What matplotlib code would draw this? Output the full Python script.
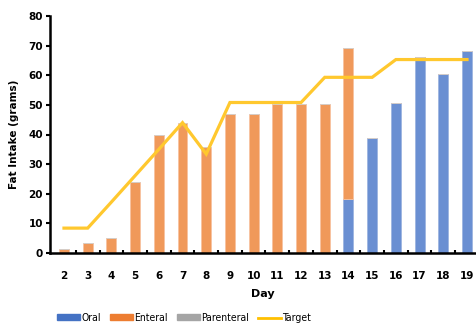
import numpy as np
import matplotlib
matplotlib.use("Agg")
import matplotlib.pyplot as plt
from matplotlib.lines import Line2D
from matplotlib.patches import Patch

# daily fat intake (grams) by route, plus the target curve
days = [2, 3, 4, 5, 6, 7, 8, 9, 10, 11, 12, 13, 14, 15, 16, 17, 18, 19]
oral = [0, 0, 0, 0, 0, 0, 0, 0, 0, 0, 0, 0, 18.2, 38.9, 50.6, 66.0, 60.5, 68.2]
enteral = [1.5, 3.4, 5.0, 24.0, 39.7, 43.8, 35.7, 46.8, 46.8, 50.2, 50.2, 50.2, 50.9, 0, 0, 0, 0, 0]
parenteral = [0] * 18
target = [8.4, 8.4, 17.2, 26.1, 35.0, 44.0, 33.4, 50.8, 50.8, 50.8, 50.8, 59.3, 59.3, 59.3, 65.3, 65.3, 65.3, 65.3]

c_oral = "#6a8fd2"
c_enteral = "#f0995a"
c_parent = "#a5a5a5"
c_target = "#ffc82e"

fig = plt.figure(figsize=(4.76, 3.26), dpi=100)
ax = fig.add_axes([50 / 476, 73 / 326, 426 / 476, 237 / 326])

x = np.arange(len(days))
bottom = np.zeros(len(days))
for vals, col, edge in [(oral, c_oral, "#9db5e0"), (enteral, c_enteral, "#f7c2a0"),
                        (parenteral, c_parent, "#cfcfcf")]:
    ax.bar(x, vals, width=0.42, bottom=bottom, color=col, edgecolor=edge,
           linewidth=0.6, zorder=2)
    bottom += np.array(vals)
ax.plot(x, target, color=c_target, lw=2.3, zorder=3, solid_joinstyle="miter")

ax.set_xlim(-0.59, 17.38)
ax.set_ylim(0, 80)
ax.set_yticks(range(0, 81, 10))
ax.set_xticks(x)
ax.set_xticklabels([str(d) for d in days])
ax.set_xticks(np.arange(0.5, 17, 1), minor=True)

for s in ["top", "right"]:
    ax.spines[s].set_visible(False)
for s in ["left", "bottom"]:
    ax.spines[s].set_linewidth(1.8)

ax.tick_params(axis="x", which="major", length=0, pad=13, labelsize=7.5)
ax.tick_params(axis="x", which="minor", direction="in", length=2.5, width=1.5)
ax.tick_params(axis="y", length=3, width=1.5, pad=2, labelsize=7.5)
for lab in ax.get_xticklabels() + ax.get_yticklabels():
    lab.set_fontweight("bold")

ax.set_xlabel("Day", fontsize=8, fontweight="bold", labelpad=6)
ax.set_ylabel("Fat Intake (grams)", fontsize=7.5, fontweight="bold", labelpad=7)

handles = [
    Patch(color="#4472c4"),
    Patch(color="#ed7d31"),
    Patch(color=c_parent),
    Line2D([], [], color="#ffc000", lw=2),
]
fig.legend(handles, ["Oral", "Enteral", "Parenteral", "Target"],
           loc="center left", bbox_to_anchor=(48 / 476, 1 - 318 / 326),
           ncol=4, frameon=False, handlelength=2.2, handleheight=0.5,
           handletextpad=0.1, columnspacing=0.9,
           prop={"family": "DejaVu Sans", "stretch": "condensed", "size": 7.5})

fig.savefig("out.png", dpi=100)
